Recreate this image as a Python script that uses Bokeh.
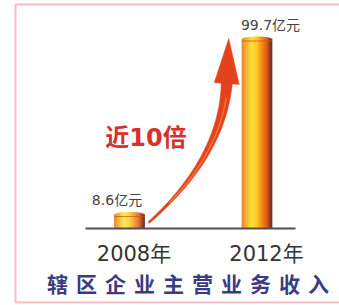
import numpy as np
from bokeh.plotting import figure
from bokeh.models import Range1d, BoxAnnotation
from bokeh.core.properties import value
from bokeh.embed import file_html
from bokeh.resources import INLINE

# ---- data ----
categories = ["2008年", "2012年"]
revenue = [8.6, 99.7]          # 亿元
value_labels = ["8.6亿元", "99.7亿元"]
growth_label = "近10倍"
title = "辖区企业主营业务收入"

# ---- layout ----
W, H = 339, 305
KX = 127.5            # px per category step
KY = 192.0 / 99.7     # px per 亿元
X0_PX, BASE_PX = 129.0, 228.0
xs = list(range(len(categories)))

x_range = Range1d(-X0_PX / KX, (W - X0_PX) / KX)
y_range = Range1d(-(H - BASE_PX) / KY, BASE_PX / KY)

def to_px(x, y):
    return (np.asarray(x) - x_range.start) * KX, (y_range.end - np.asarray(y)) * KY

def from_px(cx, cy):
    return np.asarray(cx) / KX + x_range.start, y_range.end - np.asarray(cy) / KY

p = figure(width=W, height=H, x_range=x_range, y_range=y_range,
           x_axis_location=None, y_axis_location=None,
           toolbar_location=None, output_backend="svg", min_border=0)
p.outline_line_color = None
p.background_fill_color = "white"
p.border_fill_color = "white"
p.xgrid.visible = False
p.ygrid.visible = False

# red frame
bl, bt = from_px(15, 4)
br, bb = from_px(420, 302)
p.add_layout(BoxAnnotation(left=float(bl), right=float(br), top=float(bt), bottom=float(bb),
                           fill_alpha=0, line_color="#e8242c", line_width=2))

# ---- cylinder bars (gradient strips) ----
stops_t = [0.0, 0.12, 0.32, 0.48, 0.66, 0.82, 0.92, 1.0]
stops_c = [(226, 112, 24), (246, 160, 30), (255, 226, 52), (255, 206, 36),
           (246, 140, 22), (222, 84, 14), (140, 40, 8), (90, 26, 6)]
def grad(t):
    r = np.interp(t, stops_t, [c[0] for c in stops_c])
    g = np.interp(t, stops_t, [c[1] for c in stops_c])
    b = np.interp(t, stops_t, [c[2] for c in stops_c])
    return "#%02x%02x%02x" % (int(r), int(g), int(b))

bar_w = 30.5 / KX
N = 30
cap = 3.0 / KY
for x, v in zip(xs, revenue):
    sx, tops, cols = [], [], []
    for i in range(N):
        t = (i + 0.5) / N
        u = 2 * t - 1
        sx.append(x - bar_w / 2 + t * bar_w)
        tops.append(v - cap * (1 - np.sqrt(1 - u * u)))
        cols.append(grad(t))
    p.vbar(x=sx, width=bar_w / N * 1.15, top=tops, bottom=0, fill_color=cols, line_color=None)
    rim = v - 4.5 / KY
    p.segment(x0=[x - bar_w / 2], y0=[rim], x1=[x + bar_w / 2], y1=[rim],
              line_color="#c85a10", line_width=1, line_alpha=0.8)

# baseline
p.segment(x0=[xs[0] - 44 / KX], y0=[0], x1=[xs[-1] + 38.5 / KX], y1=[0],
          line_color="#505050", line_width=2)

# ---- growth arrow (from small bar top-right to big bar top-left) ----
sxp, syp = to_px(xs[0] + bar_w / 2 + 4 / KX, revenue[0] * 0.36)
exp_, eyp = to_px(xs[1] - bar_w / 2 - 13 / KX, revenue[1] - 1.0)
dxp, dyp = exp_ - sxp, eyp - syp
def fp(fx, fy):
    return np.array([sxp + fx * dxp, syp + fy * dyp])
P0, P1, P2, P3 = fp(0, 0), fp(0.52, 0.20), fp(0.93, 0.45), fp(0.975, 0.755)
tt = np.linspace(0, 1, 60)
curve = (np.outer((1 - tt) ** 3, P0) + np.outer(3 * (1 - tt) ** 2 * tt, P1)
         + np.outer(3 * (1 - tt) * tt ** 2, P2) + np.outer(tt ** 3, P3))
d = np.gradient(curve, axis=0)
d /= np.linalg.norm(d, axis=1)[:, None]
nrm = np.column_stack([-d[:, 1], d[:, 0]])
half = 1.0 + 4.5 * tt ** 1.3
left = curve + nrm * half[:, None]
right = curve - nrm * half[:, None]
hb = nrm[-1] * 12.5
head = [P3 + hb, np.array([exp_, eyp]), P3 - hb]
poly = np.vstack([left, [head[0], head[1], head[2]], right[::-1]])
ax_, ay_ = from_px(poly[:, 0], poly[:, 1])
p.patch(x=list(ax_), y=list(ay_), fill_color="#e4421c", line_color="#e4421c", line_width=0.5)
hl = curve[10:55] + nrm[10:55] * (half[10:55, None] * 0.2)
hx, hy = from_px(hl[:, 0], hl[:, 1])
p.line(x=list(hx), y=list(hy), line_color="#f78a4a", line_width=1.5, line_alpha=0.7)

# ---- texts ----
FONT = value("Noto Sans CJK SC")
NUMFONT = value("Liberation Sans, Noto Sans CJK SC")
p.text(x=xs, y=revenue, text=value_labels, x_offset=[-12.5, 13.5], y_offset=-12,
       text_font=value("DejaVu Sans, Noto Sans CJK SC"), text_font_size="14px",
       text_color="#444444", text_align="center", text_baseline="middle")
p.text(x=xs, y=[0, 0], text=categories, x_offset=[4.5, 9.5], y_offset=25,
       text_font=value("DejaVu Sans, Noto Sans CJK SC"), text_font_size="21px",
       text_color="#333333", text_align="center", text_baseline="middle")
gx, gy = from_px(145.5, 137.5)
p.text(x=[float(gx)], y=[float(gy)], text=[growth_label],
       text_font=value("DejaVu Sans, Noto Sans CJK SC"), text_font_size="24px",
       text_font_style="bold", text_color="#d8302a",
       text_align="center", text_baseline="middle")
chars = list(title)
cxs = np.linspace(57, 318, len(chars))
tx, ty = from_px(cxs, np.full(len(chars), 282.5))
p.text(x=list(tx), y=list(ty), text=chars,
       text_font=FONT, text_font_size="21px", text_font_style="bold", text_color="#3b3b82",
       text_align="center", text_baseline="middle")

open("out.html", "w").write(file_html(p, INLINE))
